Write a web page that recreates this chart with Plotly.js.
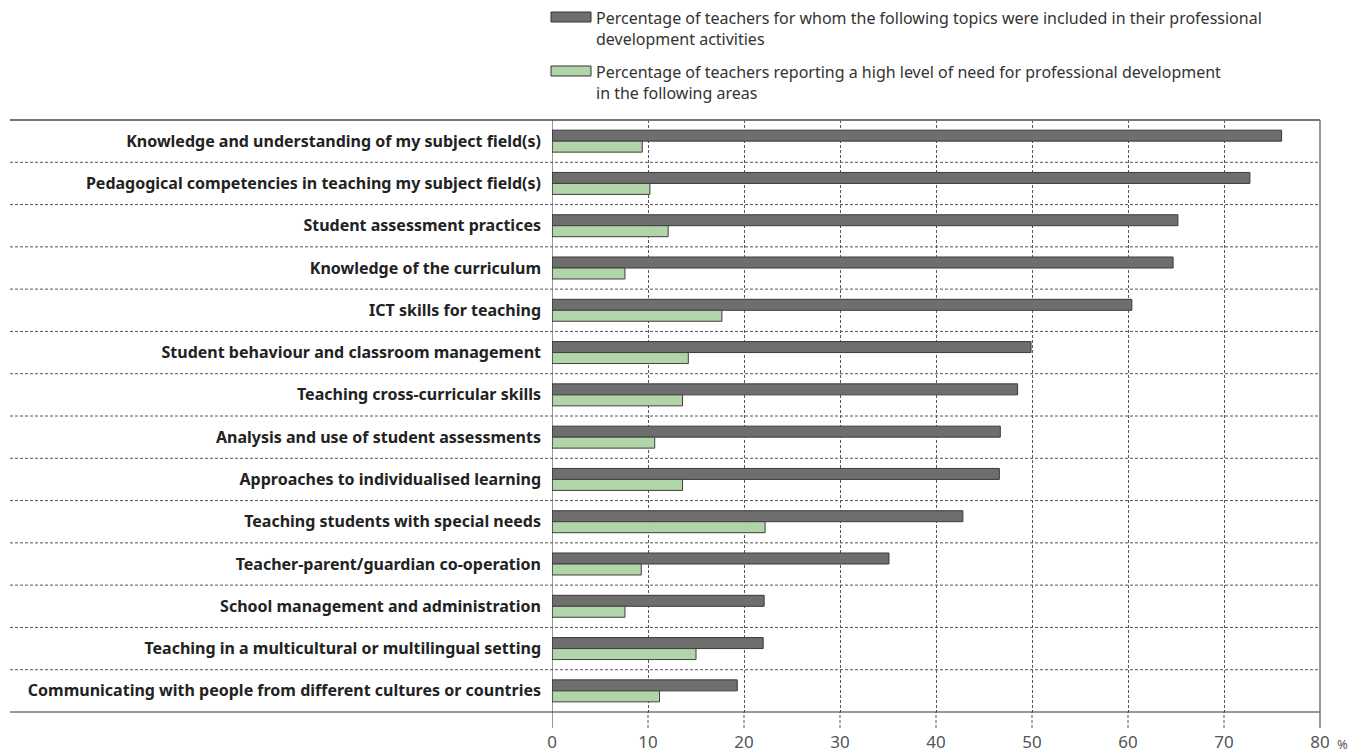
<!DOCTYPE html>
<html>
<head>
<meta charset="utf-8">
<script src="https://cdn.plot.ly/plotly-3.0.1.min.js"></script>
<style>html,body{margin:0;padding:0;background:#fff;}#chart{width:1362px;height:752px;}</style>
</head>
<body>
<div id="chart"></div>
<script>
const categories = [
  "Knowledge and understanding of my subject field(s)",
  "Pedagogical competencies in teaching my subject field(s)",
  "Student assessment practices",
  "Knowledge of the curriculum",
  "ICT skills for teaching",
  "Student behaviour and classroom management",
  "Teaching cross-curricular skills",
  "Analysis and use of student assessments",
  "Approaches to individualised learning",
  "Teaching students with special needs",
  "Teacher-parent/guardian co-operation",
  "School management and administration",
  "Teaching in a multicultural or multilingual setting",
  "Communicating with people from different cultures or countries"
];
const included = [76.0, 72.7, 65.2, 64.7, 60.4, 49.9, 48.5, 46.7, 46.6, 42.8, 35.1, 22.1, 22.0, 19.3];
const need = [9.4, 10.2, 12.1, 7.6, 17.7, 14.2, 13.6, 10.7, 13.6, 22.2, 9.3, 7.6, 15.0, 11.2];
const seriesNames = [
  "Percentage of teachers for whom the following topics were included in their professional<br>development activities",
  "Percentage of teachers reporting a high level of need for professional development<br>in the following areas"
];
const xTicks = [0, 10, 20, 30, 40, 50, 60, 70, 80];
const xTickText = ["0", "10", "20", "30", "40", "50", "60", "70", "80"];

const darkColor = "#6e6e6e", greenColor = "#b1d5a9";

const traces = [
  {type: "bar", orientation: "h", y: categories, x: included, name: seriesNames[0],
   marker: {color: darkColor, line: {color: "#3a3a3a", width: 1}}, showlegend: false, hoverinfo: "x+y"},
  {type: "bar", orientation: "h", y: categories, x: need, name: seriesNames[1],
   marker: {color: greenColor, line: {color: "#3f3f3f", width: 1}}, showlegend: false, hoverinfo: "x+y"}
];

// layout geometry (pixels)
const W = 1362, H = 752, L = 552, R = 1320, T = 120, B = 712;
const pw = R - L, ph = B - T;
const px = v => (v - L) / pw;
const py = v => (B - v) / ph;
const leftEdge = px(10);

const shapes = [];
shapes.push({type: "line", xref: "paper", yref: "paper", x0: leftEdge, x1: 1, y0: 1, y1: 1, line: {color: "#777", width: 2}});
shapes.push({type: "line", xref: "paper", yref: "paper", x0: leftEdge, x1: 1, y0: 0, y1: 0, line: {color: "#333", width: 1}});
shapes.push({type: "line", xref: "paper", yref: "paper", x0: 1, x1: 1, y0: py(728), y1: 1, line: {color: "#777", width: 1.5}});
shapes.push({type: "line", xref: "x", yref: "paper", x0: 0, x1: 0, y0: py(728), y1: 1, line: {color: "#333", width: 1}});
for (let i = 1; i < xTicks.length - 1; i++) {
  shapes.push({type: "line", xref: "x", yref: "paper", x0: xTicks[i], x1: xTicks[i], y0: py(728), y1: 0, line: {color: "#555", width: 1, dash: "3px,2px"}});
}
for (let i = 0; i < categories.length - 1; i++) {
  shapes.push({type: "line", xref: "paper", yref: "y", x0: leftEdge, x1: 1, y0: i + 0.5, y1: i + 0.5, line: {color: "#555", width: 1, dash: "3px,2px"}});
}
const legendColors = [darkColor, greenColor];
const legendSymTop = [12, 66];
for (let k = 0; k < 2; k++) {
  shapes.push({type: "rect", xref: "paper", yref: "paper", x0: px(551), x1: px(591), y0: py(legendSymTop[k] + 10), y1: py(legendSymTop[k]),
    fillcolor: legendColors[k], line: {color: "#333", width: 1}});
}

const annotations = [];
const legendTextTop = [5, 59];
for (let k = 0; k < 2; k++) {
  annotations.push({xref: "paper", yref: "paper", x: px(594), y: py(legendTextTop[k]), xanchor: "left", yanchor: "top",
    text: seriesNames[k], showarrow: false, align: "left",
    font: {family: "Noto Sans", size: 16, color: "#333"}});
}
annotations.push({xref: "paper", yref: "paper", x: px(1335), y: py(744), xanchor: "left", yanchor: "middle",
  text: "%", showarrow: false, font: {family: "Noto Sans", size: 13, color: "#555"}});

const layout = {
  width: W, height: H,
  margin: {l: L, r: W - R, t: T, b: H - B, pad: 0},
  paper_bgcolor: "#fff", plot_bgcolor: "#fff",
  barmode: "group", bargap: 0.48, bargroupgap: 0,
  showlegend: false,
  xaxis: {
    range: [0, 80], tickvals: xTicks, ticktext: xTickText,
    showgrid: true, gridcolor: "#555", griddash: "3px,2px", gridwidth: 1,
    zeroline: false, showline: false,
    ticks: "outside", ticklen: 15, tickcolor: "rgba(0,0,0,0)",
    tickfont: {family: "Noto Sans", size: 17, color: "#555"}
  },
  yaxis: {
    type: "category", autorange: "reversed",
    showgrid: false, zeroline: false, showline: false, ticks: "",
    ticklabelstandoff: 10,
    tickfont: {family: "Noto Sans", size: 16, color: "#222", weight: "bold"}
  },
  shapes: shapes,
  annotations: annotations
};

Plotly.newPlot("chart", traces, layout, {displayModeBar: false, staticPlot: true});
</script>
</body>
</html>
